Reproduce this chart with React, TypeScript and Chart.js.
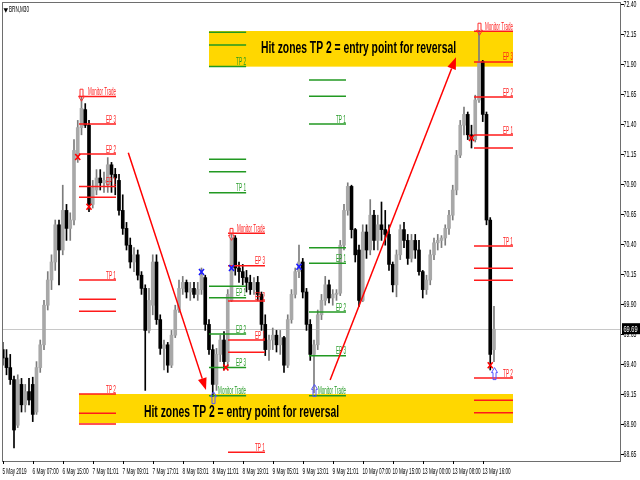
import React, { useEffect, useRef } from 'react';
import { Chart, registerables } from 'chart.js';

Chart.register(...registerables);

// ---- candle data (BRN, M30, each candle = 2 bars) ----
const opens = [
  69.52, 69.45, 69.37, 69.27, 68.89, 69.23, 69.06, 69.17, 69.23, 69.00,
  69.37, 69.56, 69.89, 70.10, 70.25, 70.56, 70.35, 70.68, 70.53, 70.60,
  71.14, 71.37, 71.52, 71.39, 70.73, 70.85, 70.95, 70.91, 70.89, 71.06,
  70.98, 70.93, 70.68, 70.53, 70.39, 70.25, 70.31, 70.14, 70.03, 69.68,
  69.89, 70.25, 69.77, 69.53, 69.56, 69.39, 69.64, 69.85, 70.03, 70.08,
  70.00, 70.03, 69.98, 70.02, 70.12, 69.73, 69.52, 69.23, 69.48, 69.60,
  69.42, 69.93, 70.45, 70.20, 70.17, 70.12, 70.08, 70.02, 70.08, 69.98,
  69.73, 69.52, 69.60, 69.64, 69.56, 69.62, 69.39, 69.77, 69.98, 70.17,
  70.25, 70.00, 69.73, 69.48, 69.56, 69.81, 69.93, 70.06, 69.95, 69.98,
  69.99, 70.39, 70.68, 70.88, 70.52, 70.35, 69.93, 70.50, 70.35, 70.64,
  70.43, 70.56, 70.52, 70.48, 70.23, 70.06, 70.31, 70.52, 70.43, 70.28,
  70.43, 70.35, 70.17, 70.02, 70.10, 70.31, 70.41, 70.43, 70.45, 70.53,
  70.64, 70.85, 71.14, 71.39, 71.48, 71.31, 71.27, 71.60, 71.92, 71.48,
  70.60, 69.52,
];
const highs = [
  69.58, 69.52, 69.48, 69.30, 69.31, 69.28, 69.23, 69.28, 69.29, 69.42,
  69.60, 69.93, 70.17, 70.31, 70.60, 70.60, 70.89, 70.73, 70.66, 71.27,
  71.43, 71.63, 71.57, 71.43, 70.93, 71.02, 71.02, 71.00, 71.12, 71.08,
  71.03, 70.98, 70.81, 70.58, 70.45, 70.37, 70.35, 70.17, 70.06, 70.03,
  70.31, 70.31, 69.81, 69.60, 69.58, 69.68, 69.89, 70.10, 70.13, 70.10,
  70.08, 70.08, 70.08, 70.20, 70.14, 69.77, 69.56, 69.53, 69.64, 69.67,
  70.02, 70.48, 70.47, 70.25, 70.23, 70.18, 70.14, 70.12, 70.13, 70.00,
  69.81, 69.64, 69.70, 69.68, 69.68, 69.63, 69.81, 70.02, 70.20, 70.39,
  70.28, 70.03, 69.77, 69.60, 69.85, 69.98, 70.13, 70.10, 70.02, 70.02,
  70.43, 70.73, 70.91, 70.89, 70.53, 70.39, 70.56, 70.56, 70.77, 70.68,
  70.64, 70.75, 70.68, 70.56, 70.25, 70.35, 70.56, 70.58, 70.48, 70.48,
  70.48, 70.43, 70.18, 70.14, 70.35, 70.45, 70.48, 70.47, 70.56, 70.68,
  70.89, 71.18, 71.43, 71.54, 71.50, 71.39, 71.64, 72.18, 71.93, 71.50,
  70.62, 69.88,
];
const lows = [
  69.39, 69.31, 69.23, 68.70, 68.87, 69.00, 69.00, 69.06, 68.92, 68.98,
  69.33, 69.52, 69.85, 70.02, 70.18, 70.06, 70.31, 70.43, 70.43, 70.56,
  71.08, 71.31, 71.37, 70.67, 70.70, 70.81, 70.85, 70.83, 70.83, 70.83,
  70.81, 70.64, 70.48, 70.35, 70.20, 70.17, 70.10, 69.98, 69.18, 69.66,
  69.81, 69.73, 69.48, 69.35, 69.33, 69.37, 69.62, 69.83, 69.98, 69.95,
  69.93, 69.95, 69.93, 69.98, 69.68, 69.48, 69.13, 69.18, 69.42, 69.35,
  69.37, 69.92, 70.14, 70.08, 70.06, 70.00, 69.98, 69.98, 69.93, 69.68,
  69.47, 69.43, 69.52, 69.50, 69.48, 69.33, 69.37, 69.74, 69.95, 70.12,
  69.95, 69.68, 69.43, 69.16, 69.52, 69.77, 69.89, 69.91, 69.89, 69.93,
  69.97, 70.35, 70.64, 70.45, 70.25, 69.88, 69.92, 70.28, 70.31, 70.35,
  70.35, 70.43, 70.39, 70.18, 70.00, 69.96, 70.27, 70.37, 70.23, 70.25,
  70.28, 70.14, 69.95, 69.98, 70.06, 70.27, 70.35, 70.37, 70.39, 70.48,
  70.60, 70.81, 71.12, 71.31, 71.27, 71.20, 71.25, 71.58, 71.42, 70.56,
  69.35, 69.42,
];
const closes = [
  69.45, 69.37, 69.27, 68.85, 69.27, 69.06, 69.17, 69.10, 68.98, 69.37,
  69.56, 69.89, 70.10, 70.25, 70.56, 70.35, 70.68, 70.53, 70.60, 71.18,
  71.37, 71.53, 71.39, 70.73, 70.87, 70.95, 70.91, 70.93, 71.06, 70.98,
  70.95, 70.68, 70.53, 70.39, 70.25, 70.31, 70.14, 70.03, 69.68, 69.93,
  70.25, 69.77, 69.53, 69.56, 69.39, 69.64, 69.85, 70.03, 70.08, 70.00,
  70.03, 69.98, 70.02, 70.14, 69.73, 69.52, 69.23, 69.48, 69.60, 69.42,
  69.98, 70.45, 70.20, 70.17, 70.12, 70.08, 70.02, 70.08, 69.98, 69.73,
  69.52, 69.60, 69.64, 69.56, 69.62, 69.39, 69.77, 69.98, 70.17, 70.25,
  70.00, 69.73, 69.48, 69.56, 69.81, 69.93, 70.06, 69.95, 69.98, 69.99,
  70.39, 70.68, 70.88, 70.52, 70.31, 69.93, 70.50, 70.35, 70.64, 70.43,
  70.56, 70.52, 70.48, 70.23, 70.06, 70.31, 70.52, 70.43, 70.28, 70.43,
  70.35, 70.17, 70.02, 70.10, 70.31, 70.41, 70.43, 70.45, 70.53, 70.64,
  70.85, 71.14, 71.39, 71.48, 71.31, 71.27, 71.60, 71.92, 71.48, 70.60,
  69.48, 69.69,
];

// ---- axes ----
const xTickIndex = [0, 8, 16, 24, 32, 40, 48, 56, 64, 72, 80, 88, 96, 104, 112, 120, 128];
const xTickLabels = [
  '5 May 2019', '6 May 07:00', '6 May 15:00', '7 May 01:01', '7 May 09:01', '7 May 17:01',
  '8 May 03:01', '8 May 11:01', '8 May 19:01', '9 May 05:01', '9 May 13:01', '9 May 21:01',
  '10 May 07:00', '10 May 15:00', '13 May 00:00', '13 May 08:00', '13 May 16:00',
];
const yTicks = [68.65, 68.9, 69.15, 69.4, 69.65, 69.9, 70.15, 70.4, 70.65, 70.9, 71.15, 71.4, 71.65, 71.9, 72.15, 72.4];
const lastPrice = 69.69;
const symbolTitle = 'BRN,M30';

// ---- level groups: [price, label] ----
const sellLevelsA: [number, string][] = [
  [71.63, 'Monitor Trade'], [71.40, 'EP 3'], [71.15, 'EP 2'], [70.88, 'EP 1'], [70.79, ''],
  [70.10, 'TP 1'], [69.94, ''], [69.84, ''], [69.15, 'TP 2'], [68.99, ''], [68.90, ''],
];
const sellSpanA = [20.33, 30.2];
const buyLevelsB: [number, string][] = [
  [72.164, ''], [72.058, ''], [71.879, 'TP 2'], [71.106, ''], [71.003, ''], [70.828, 'TP 1'],
  [70.048, ''], [69.953, 'EP 1'], [69.65, 'EP 2'], [69.37, 'EP 3'], [69.136, 'Monitor Trade'],
];
const buySpanB = [55.0, 64.9];
const sellLevelsC: [number, string][] = [
  [70.489, 'Monitor Trade'], [70.219, 'EP 3'], [69.925, 'EP 2'], [69.60, 'EP 1'], [69.497, ''], [68.664, 'TP 1'],
];
const sellSpanC = [60.07, 69.93];
const buyLevelsD: [number, string][] = [
  [71.767, ''], [71.631, ''], [71.40, 'TP 1'], [70.369, ''], [70.239, 'EP 1'],
  [69.833, 'EP 2'], [69.469, 'EP 3'], [69.136, 'Monitor Trade'],
];
const buySpanD = [81.67, 91.53];
const sellLevelsE: [number, string][] = [
  [72.172, 'Monitor Trade'], [71.917, 'EP 3'], [71.625, 'EP 2'], [71.308, 'EP 1'], [71.20, ''],
  [70.383, 'TP 1'], [70.197, ''], [70.097, ''], [69.283, 'TP 2'], [69.097, ''], [68.994, ''],
];
const sellSpanE = [125.67, 136.07];

// hit zones: [fromIndex, toIndex, topPrice, bottomPrice]
const hitZones = [
  [55.0, 136.07, 72.175, 71.878],
  [20.33, 136.07, 69.15, 68.908],
];
const hitZoneText = 'Hit zones TP 2 = entry point for reversal';
// [leftIndex, baselinePrice]
const hitZoneTextPos = [
  [68.87, 71.989],
  [37.67, 68.961],
];
// trend arrows: [fromIndex, fromPrice, toIndex, toPrice]
const trendArrows = [
  [33.48, 71.161, 54.2, 69.183],
  [87.3, 69.267, 120.87, 71.956],
];
// X markers [index, price]
const redCrosses = [[20, 71.125], [23, 70.71], [59.5, 69.37], [125, 71.283], [130, 69.39]];
const blueCrosses = [[53, 70.166], [61, 70.2], [79, 70.21]];
// monitor-trade arrows [index, tipPrice]
const downArrows = [[21, 71.59], [61, 70.43], [127, 72.14]];
const upArrows = [[56, 69.17], [83, 69.23], [131, 69.37]];

const RED = '#ff1a1a';
const GREEN = '#229922';
const SMALL_FONT = '10px "Liberation Sans Narrow", "Liberation Sans", "DejaVu Sans Condensed", sans-serif';

function fitText(ctx: CanvasRenderingContext2D, s: string, x: number, y: number, maxW: number) {
  const w = ctx.measureText(s).width;
  if (w > maxW) ctx.fillText(s, x, y, maxW);
  else ctx.fillText(s, x, y);
}

const overlay = {
  id: 'mt4overlay',
  beforeDatasetsDraw(chart: any) {
    const { ctx, chartArea: a, scales } = chart;
    const x = scales.x, y = scales.y;
    ctx.save();
    ctx.fillStyle = '#ffd700';
    for (const z of hitZones) {
      const x0 = x.getPixelForValue(z[0]), x1 = x.getPixelForValue(z[1]);
      const y0 = y.getPixelForValue(z[2]), y1 = y.getPixelForValue(z[3]);
      ctx.fillRect(x0, y0, x1 - x0, y1 - y0);
    }
    const py = Math.round(y.getPixelForValue(lastPrice)) + 0.5;
    ctx.strokeStyle = '#c8c8c8';
    ctx.lineWidth = 1;
    ctx.beginPath();
    ctx.moveTo(a.left, py);
    ctx.lineTo(a.right, py);
    ctx.stroke();
    ctx.restore();
  },
  afterDatasetsDraw(chart: any) {
    const { ctx, chartArea: a, scales } = chart;
    const x = scales.x, y = scales.y;
    ctx.save();

    ctx.fillStyle = '#000';
    ctx.font = 'bold 16px "Liberation Sans Narrow", "Liberation Sans", Arial, sans-serif';
    ctx.textBaseline = 'alphabetic';
    ctx.textAlign = 'left';
    for (const p of hitZoneTextPos) {
      fitText(ctx, hitZoneText, x.getPixelForValue(p[0]), y.getPixelForValue(p[1]), 195);
    }

    const groups: [[number, string][], number[], string][] = [
      [sellLevelsA, sellSpanA, RED],
      [buyLevelsB, buySpanB, GREEN],
      [sellLevelsC, sellSpanC, RED],
      [buyLevelsD, buySpanD, GREEN],
      [sellLevelsE, sellSpanE, RED],
    ];
    ctx.font = SMALL_FONT;
    ctx.textAlign = 'right';
    for (const [levels, span, color] of groups) {
      const x0 = x.getPixelForValue(span[0]), x1 = x.getPixelForValue(span[1]);
      ctx.strokeStyle = color;
      ctx.fillStyle = color;
      ctx.lineWidth = 1.5;
      for (const [price, label] of levels) {
        const py = y.getPixelForValue(price);
        if (py < a.top || py > a.bottom) continue;
        ctx.beginPath();
        ctx.moveTo(x0, py);
        ctx.lineTo(x1, py);
        ctx.stroke();
        if (label) fitText(ctx, label, x1, py - 1.5, label.length > 5 ? 28 : 10);
      }
    }

    ctx.strokeStyle = '#ff0000';
    ctx.fillStyle = '#ff0000';
    ctx.lineWidth = 1.5;
    for (const t of trendArrows) {
      const sx = x.getPixelForValue(t[0]), sy = y.getPixelForValue(t[1]);
      const ex = x.getPixelForValue(t[2]), ey = y.getPixelForValue(t[3]);
      const ang = Math.atan2(ey - sy, ex - sx);
      const hl = 12, hw = 4.5;
      const bx = ex - hl * Math.cos(ang), by = ey - hl * Math.sin(ang);
      ctx.beginPath();
      ctx.moveTo(sx, sy);
      ctx.lineTo(bx, by);
      ctx.stroke();
      ctx.beginPath();
      ctx.moveTo(ex, ey);
      ctx.lineTo(bx + hw * Math.sin(ang), by - hw * Math.cos(ang));
      ctx.lineTo(bx - hw * Math.sin(ang), by + hw * Math.cos(ang));
      ctx.closePath();
      ctx.fill();
    }

    const cross = (list: number[][], color: string, s: number) => {
      ctx.strokeStyle = color;
      ctx.lineWidth = 1.6;
      for (const c of list) {
        const cx = x.getPixelForValue(c[0]), cy = y.getPixelForValue(c[1]);
        ctx.beginPath();
        ctx.moveTo(cx - s, cy - s - 0.5);
        ctx.lineTo(cx + s, cy + s + 0.5);
        ctx.moveTo(cx + s, cy - s - 0.5);
        ctx.lineTo(cx - s, cy + s + 0.5);
        ctx.stroke();
      }
    };
    cross(redCrosses, '#ff0000', 2.5);
    cross(blueCrosses, '#1a1aff', 2.5);

    const arrow = (list: number[][], color: string, dir: number) => {
      ctx.strokeStyle = color;
      ctx.lineWidth = 1;
      for (const p of list) {
        const cx = Math.round(x.getPixelForValue(p[0])) + 0.5;
        const ty = y.getPixelForValue(p[1]);
        const h = 5, L = 12, hw = 3, sw = 1.5;
        ctx.beginPath();
        ctx.moveTo(cx, ty);
        ctx.lineTo(cx + hw, ty - dir * h);
        ctx.lineTo(cx + sw, ty - dir * h);
        ctx.lineTo(cx + sw, ty - dir * L);
        ctx.lineTo(cx - sw, ty - dir * L);
        ctx.lineTo(cx - sw, ty - dir * h);
        ctx.lineTo(cx - hw, ty - dir * h);
        ctx.closePath();
        ctx.stroke();
      }
    };
    arrow(downArrows, '#ff3030', 1);
    arrow(upArrows, '#5555ff', -1);

    ctx.strokeStyle = '#6e6e6e';
    ctx.lineWidth = 1;
    ctx.strokeRect(a.left + 0.5, a.top + 0.5, a.right - a.left - 1, a.bottom - a.top);

    ctx.fillStyle = '#000';
    ctx.strokeStyle = '#000';
    ctx.font = '9px "Liberation Sans", Arial, sans-serif';
    ctx.textAlign = 'left';
    ctx.textBaseline = 'alphabetic';
    x.ticks.forEach((t: any) => {
      const px = Math.round(x.getPixelForValue(t.value)) + 0.5;
      ctx.beginPath();
      ctx.moveTo(px, a.bottom);
      ctx.lineTo(px, a.bottom + 3);
      ctx.stroke();
      const i = xTickIndex.indexOf(t.value);
      const s = xTickLabels[i] || '';
      fitText(ctx, s, px - 1, 473.5, 3 + 2.1 * s.length);
    });

    ctx.textBaseline = 'middle';
    y.ticks.forEach((t: any) => {
      const py = Math.round(y.getPixelForValue(t.value)) + 0.5;
      ctx.beginPath();
      ctx.moveTo(a.right, py);
      ctx.lineTo(a.right + 3, py);
      ctx.stroke();
      fitText(ctx, t.value.toFixed(2), a.right + 2.5, py + 0.5, 13);
    });

    const lp = y.getPixelForValue(lastPrice);
    ctx.fillStyle = '#000';
    ctx.fillRect(a.right + 1, lp - 6, 19, 11);
    ctx.fillStyle = '#fff';
    fitText(ctx, lastPrice.toFixed(2), a.right + 2.5, lp, 14);

    ctx.fillStyle = '#000';
    ctx.textBaseline = 'alphabetic';
    ctx.font = '6px "DejaVu Sans", sans-serif';
    ctx.fillText('\u25BC', a.left + 1.5, 11.5);
    ctx.font = '9px "Liberation Sans", Arial, sans-serif';
    fitText(ctx, symbolTitle, a.left + 7, 12, 20);

    ctx.restore();
  },
};

export default function App() {
  const ref = useRef<HTMLCanvasElement | null>(null);
  useEffect(() => {
    if (!ref.current) return;
    const idx = opens.map((_, i) => i);
    const up = idx.map((i) => closes[i] >= opens[i]);
    const chart = new Chart(ref.current, {
      type: 'bar',
      data: {
        datasets: [
          {
            data: idx.map((i) => ({ x: i, y: [opens[i], closes[i]] })) as any,
            backgroundColor: up.map((u) => (u ? '#a8a8a8' : '#000000')),
            barThickness: 3,
            grouped: false,
            order: 0,
          } as any,
          {
            data: idx.map((i) => ({ x: i, y: [lows[i], highs[i]] })) as any,
            backgroundColor: up.map((u) => (u ? '#7c7c7c' : '#000000')),
            barThickness: 1,
            grouped: false,
            order: 1,
          } as any,
        ],
      },
      options: {
        animation: false,
        responsive: false,
        maintainAspectRatio: false,
        layout: { padding: { left: 2, top: 2, right: 0, bottom: 0 } },
        plugins: { legend: { display: false }, tooltip: { enabled: false } },
        scales: {
          x: {
            type: 'linear',
            min: -0.2,
            max: 164.87,
            offset: false,
            grid: { display: false },
            border: { display: false },
            ticks: { display: false },
            afterBuildTicks: (s: any) => {
              s.ticks = xTickIndex.map((v) => ({ value: v }));
            },
            afterFit: (s: any) => {
              s.height = 19;
            },
          },
          y: {
            type: 'linear',
            position: 'right',
            min: 68.5917,
            max: 72.4167,
            grid: { display: false },
            border: { display: false },
            ticks: { display: false },
            afterBuildTicks: (s: any) => {
              s.ticks = yTicks.map((v) => ({ value: v }));
            },
            afterFit: (s: any) => {
              s.width = 19;
            },
          },
        } as any,
      },
      plugins: [overlay],
    });
    return () => chart.destroy();
  }, []);
  return (
    <div style={{ position: 'fixed', left: 0, top: 0, width: 640, height: 480, background: '#fff' }}>
      <canvas ref={ref} width={640} height={480} style={{ display: 'block' }} />
    </div>
  );
}
